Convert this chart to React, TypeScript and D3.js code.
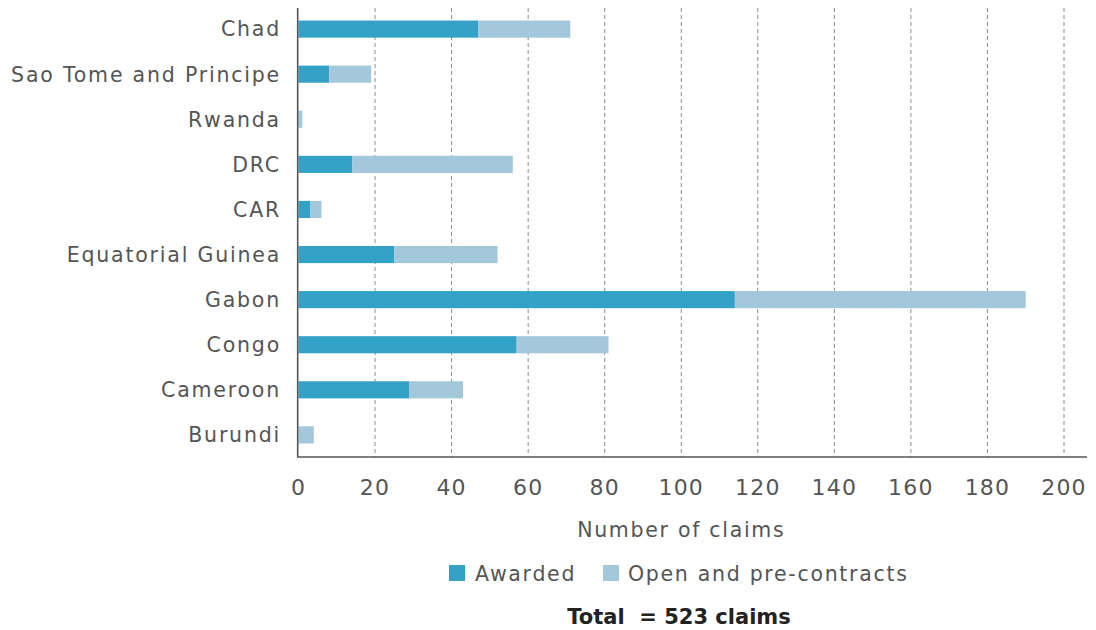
import React from "react";
import * as d3 from "d3";

const categories = ["Chad", "Sao Tome and Principe", "Rwanda", "DRC", "CAR", "Equatorial Guinea", "Gabon", "Congo", "Cameroon", "Burundi"];
const awarded = [47, 8, 0, 14, 3, 25, 114, 57, 29, 0];
const openPre = [24, 11, 1, 42, 3, 27, 76, 24, 14, 4];
const xTicks = [0, 20, 40, 60, 80, 100, 120, 140, 160, 180, 200];
const seriesNames = ["Awarded", "Open and pre-contracts"];
const colors = ["#33a2c6", "#a3c8dc"];

const W = 1096;
const H = 630;
const FONT = "'DejaVu Sans', sans-serif";

export default function App() {
  const x = d3.scaleLinear().domain([0, 200]).range([298.5, 1064]);
  const y = d3.scaleBand<string>().domain(categories).range([7, 457]).paddingInner(0.62).paddingOuter(0.3);
  const rows = categories.map((c, i) => ({ c, a: awarded[i], o: openPre[i] }));
  const axisY = 457;
  return (
    <svg width={W} height={H} style={{ position: "absolute", left: 0, top: 0, background: "#fff" }}>
      {xTicks.filter((t) => t > 0).map((t) => (
        <line key={t} x1={x(t)} x2={x(t)} y1={8} y2={axisY} stroke="#8a8a8a" strokeWidth={1} strokeDasharray="4,3" />
      ))}
      {rows.map((r) => (
        <g key={r.c}>
          {r.a > 0 && (
            <rect x={x(0)} y={y(r.c)} width={x(r.a) - x(0)} height={y.bandwidth()} fill={colors[0]} />
          )}
          {r.o > 0 && (
            <rect x={x(r.a)} y={y(r.c)} width={x(r.a + r.o) - x(r.a)} height={y.bandwidth()} fill={colors[1]} />
          )}
          <text x={281} y={(y(r.c) as number) + y.bandwidth() / 2} dy="0.36em" textAnchor="end" fontFamily={FONT} fontSize={20.5} letterSpacing={1.8} fill="#555">
            {r.c}
          </text>
        </g>
      ))}
      <line x1={297.7} x2={297.7} y1={8} y2={axisY} stroke="#555" strokeWidth={1.6} />
      <line x1={297} x2={1087} y1={axisY} y2={axisY} stroke="#555" strokeWidth={1.6} />
      {xTicks.map((t) => (
        <text key={t} x={x(t)} y={495} textAnchor="middle" fontFamily={FONT} fontSize={22} letterSpacing={1.2} fill="#555">
          {t}
        </text>
      ))}
      <text x={(x(0) + x(200)) / 2} y={537} textAnchor="middle" fontFamily={FONT} fontSize={20.5} letterSpacing={1.7} fill="#555">
        Number of claims
      </text>
      <g>
        <rect x={449} y={565} width={16} height={16} fill={colors[0]} />
        <text x={475} y={581} fontFamily={FONT} fontSize={20.5} letterSpacing={1.7} fill="#555">{seriesNames[0]}</text>
        <rect x={603} y={565} width={16} height={16} fill={colors[1]} />
        <text x={628} y={581} fontFamily={FONT} fontSize={20.5} letterSpacing={1.7} fill="#555">{seriesNames[1]}</text>
      </g>
      <text x={679} y={624} textAnchor="middle" fontFamily={FONT} fontSize={21} fontWeight="bold" fill="#222" style={{ whiteSpace: "pre" }}>
        {"Total  = 523 claims"}
      </text>
    </svg>
  );
}
